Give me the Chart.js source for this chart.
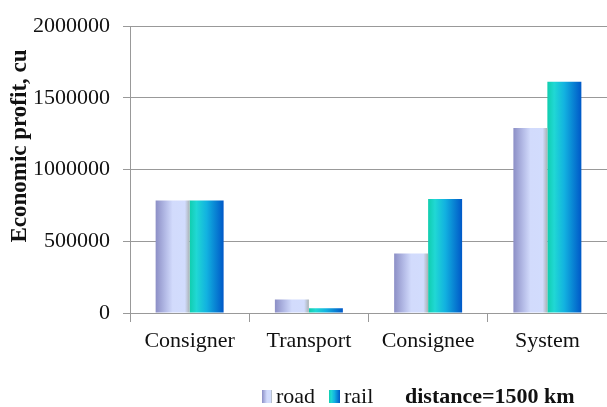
<!DOCTYPE html>
<html lang="en">
<head>
    <meta charset="UTF-8">
    <title>Economic profit</title>
    <script src="https://cdn.jsdelivr.net/npm/chart.js"></script>
    <style>
        body { margin: 0; background: white; }
        #wrap { width: 607px; height: 407px; position: relative; }
    </style>
</head>
<body>
    <div id="wrap"><canvas id="profitChart"></canvas></div>

    <script>
        // data
        let categories = ['Consigner', 'Transport', 'Consignee', 'System'];
        let road = [785000, 95000, 415000, 1290000];
        let rail = [785000, 33000, 795000, 1612000];
        let yTicks = [0, 500000, 1000000, 1500000, 2000000];

        const serif = '"Liberation Serif", "Times New Roman", serif';

        const roadStops = [[0, '#8c8fc6'], [0.3, '#b6bde8'], [0.5, '#d2dbfc'], [0.86, '#d2dcfd'], [1, '#a9b2b4']];
        const railStops = [[0, '#10cdae'], [0.2, '#20d8d4'], [0.5, '#12b2e0'], [1, '#0058c8']];

        function gradientFill(stops) {
            return function (context) {
                let el = context.element;
                if (!el || el.x === undefined || isNaN(el.x) || !el.width) return stops[2][1];
                let g = context.chart.ctx.createLinearGradient(el.x - el.width / 2, 0, el.x + el.width / 2, 0);
                stops.forEach(s => g.addColorStop(s[0], s[1]));
                return g;
            };
        }

        function boxFill(ctx, x, w, stops) {
            let g = ctx.createLinearGradient(x, 0, x + w, 0);
            stops.forEach(s => g.addColorStop(s[0], s[1]));
            return g;
        }

        // y title and bottom legend
        const extras = {
            id: 'extras',
            afterDraw(chart) {
                let ctx = chart.ctx;
                ctx.save();
                ctx.fillStyle = '#111';
                ctx.font = 'bold 23px ' + serif;
                ctx.textAlign = 'center';
                ctx.textBaseline = 'middle';
                ctx.translate(20, 146);
                ctx.rotate(-Math.PI / 2);
                ctx.fillText('Economic profit, cu', 0, 0);
                ctx.restore();

                ctx.save();
                ctx.fillStyle = boxFill(ctx, 262, 10, roadStops);
                ctx.fillRect(262, 390, 10, 13);
                ctx.fillStyle = boxFill(ctx, 329, 11, railStops);
                ctx.fillRect(329, 390, 11, 13);
                ctx.fillStyle = '#111';
                ctx.textBaseline = 'alphabetic';
                ctx.textAlign = 'left';
                ctx.font = '22px ' + serif;
                ctx.fillText('road', 276, 403);
                ctx.fillText('rail', 344, 403);
                ctx.font = 'bold 22px ' + serif;
                ctx.fillText('distance=1500 km', 405, 403);
                ctx.restore();
            }
        };

        let chart = new Chart(document.getElementById('profitChart'), {
            type: 'bar',
            data: {
                labels: categories,
                datasets: [
                    { label: 'road', data: road, backgroundColor: gradientFill(roadStops), borderWidth: 0 },
                    { label: 'rail', data: rail, backgroundColor: gradientFill(railStops), borderWidth: 0 }
                ]
            },
            options: {
                responsive: true,
                maintainAspectRatio: false,
                animation: false,
                layout: { padding: { top: 23, right: 0, bottom: 38, left: 0 } },
                categoryPercentage: 0.57,
                barPercentage: 1.0,
                plugins: {
                    legend: { display: false },
                    tooltip: { enabled: false }
                },
                scales: {
                    x: {
                        grid: { offset: true, drawOnChartArea: false, color: '#999', tickLength: 9 },
                        border: { color: '#999' },
                        ticks: { color: '#111', font: { family: serif, size: 22 }, padding: 6 },
                        afterFit(scale) { scale.height = 56; }
                    },
                    y: {
                        min: 0,
                        max: 2000000,
                        afterBuildTicks(scale) { scale.ticks = yTicks.map(v => ({ value: v })); },
                        grid: { color: '#999', tickLength: 7 },
                        border: { color: '#999' },
                        ticks: {
                            color: '#111',
                            font: { family: serif, size: 22 },
                            padding: 13,
                            callback: v => String(v)
                        },
                        afterFit(scale) { scale.width = 130; }
                    }
                }
            },
            plugins: [extras]
        });
        chart.update();
    </script>
</body>
</html>
